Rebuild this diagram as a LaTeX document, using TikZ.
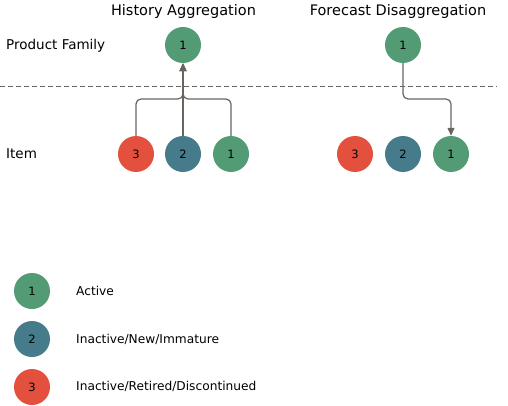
\documentclass[tikz,border=0pt]{standalone}
\usepackage{fontspec}
\setmainfont{DejaVu Sans}
\usetikzlibrary{arrows.meta,positioning}
\definecolor{active}{RGB}{82,155,116}
\definecolor{immature}{RGB}{69,123,138}
\definecolor{retired}{RGB}{228,80,62}
\definecolor{linegrey}{RGB}{105,100,96}

\begin{document}
\begin{tikzpicture}[x = 1pt, y = -1pt,
						state/.style = {circle, draw = none, minimum size = 36pt, inner sep = 0pt, font = \fontsize{11.5}{13}\selectfont},
						isactive/.style = {state, fill = active},
						isnew/.style = {state, fill = immature},
						isretired/.style = {state, fill = retired},
						title/.style = {font = \fontsize{14.5}{17}\selectfont},
						rowlabel/.style = {anchor = west, inner sep = 0pt, font = \fontsize{13.5}{16}\selectfont},
						legendlabel/.style = {rowlabel, font = \fontsize{12.2}{14}\selectfont},
						pathstyle/.style = {draw = linegrey, line width = 1.2pt, rounded corners = 5pt, -{Triangle[length = 8pt, width = 7pt]}}]
		\useasboundingbox (0,0) rectangle (508,406);
		% Row labels and separator
		\node (famlabel) at (6,46) [rowlabel] {Product Family};
		\node (itemlabel) at (6,154) [rowlabel] {Item};
		\draw [linegrey, line width = 1pt, dash pattern = on 5pt off 3pt] (0,87) -- (497,87);
		% History Aggregation
		\node (htitle) at (183.5,12) [title] {History Aggregation};
		\node (hfam) at (183,45) [isactive] {1};
		\node (hitem3) at (136,154) [isretired] {3};
		\node (hitem2) at (183,154) [isnew] {2};
		\node (hitem1) at (231,154) [isactive] {1};
		\coordinate (hjoin) at (183,99);
		\draw [pathstyle] (hitem3.north) |- (hjoin) -- (hfam.south);
		\draw [pathstyle] (hitem1.north) |- (hjoin) -- (hfam.south);
		\draw [pathstyle] (hitem2.north) -- (hfam.south);
		% Forecast Disaggregation
		\node (ftitle) at (398,12) [title] {Forecast Disaggregation};
		\node (ffam) at (403,45) [isactive] {1};
		\node (fitem3) at (355,154) [isretired] {3};
		\node (fitem2) at (403,154) [isnew] {2};
		\node (fitem1) at (451,154) [isactive] {1};
		\coordinate (fsplit) at (403,99);
		\draw [pathstyle] (ffam.south) -- (fsplit) -| (fitem1.north);
		% Legend
		\node (leg1) at (32,291) [isactive] {1};
		\node (leg2) at (32,339) [isnew] {2};
		\node (leg3) at (32,387) [isretired] {3};
		\node (leg1text) at (76,291) [legendlabel] {Active};
		\node (leg2text) at (76,339) [legendlabel] {Inactive/New/Immature};
		\node (leg3text) at (76,386) [legendlabel] {Inactive/Retired/Discontinued};
	\end{tikzpicture}
\end{document}
